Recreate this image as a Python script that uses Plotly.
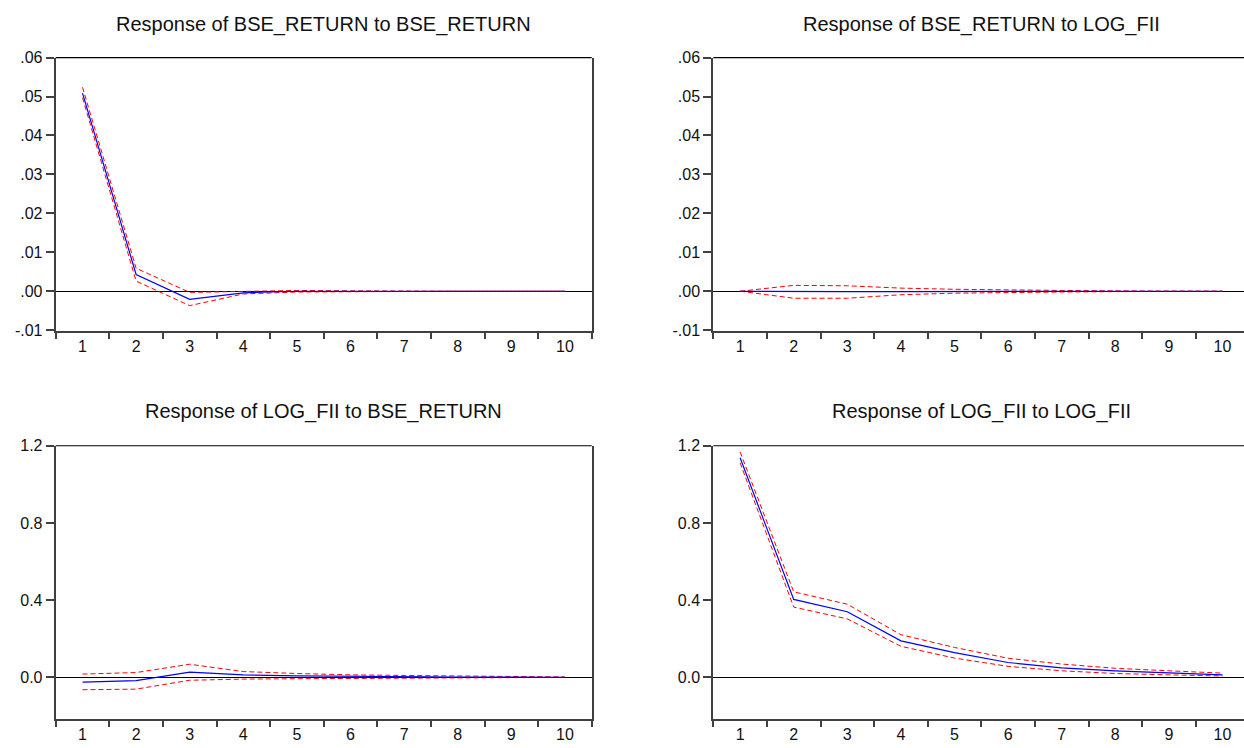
import plotly.graph_objects as go

periods = ["1", "2", "3", "4", "5", "6", "7", "8", "9", "10"]

# Response of BSE_RETURN to BSE_RETURN
bse_bse = [0.0509, 0.0043, -0.0021, -0.0004, 0.0000, 0.0000, 0.0000, 0.0000, 0.0000, 0.0000]
bse_bse_up = [0.0524, 0.0059, -0.0003, 0.0000, 0.0002, 0.0001, 0.0000, 0.0000, 0.0000, 0.0000]
bse_bse_lo = [0.0497, 0.0026, -0.0037, -0.0007, -0.0002, -0.0001, 0.0000, 0.0000, 0.0000, 0.0000]

# Response of BSE_RETURN to LOG_FII
bse_fii = [0.0000, -0.0001, -0.0001, -0.0001, -0.00005, 0.0000, 0.0000, 0.0000, 0.0000, 0.0000]
bse_fii_up = [0.0000, 0.0015, 0.0014, 0.0008, 0.0005, 0.0003, 0.0002, 0.0001, 0.0001, 0.0000]
bse_fii_lo = [0.0000, -0.0018, -0.0018, -0.0009, -0.0005, -0.0003, -0.0002, -0.0001, -0.0001, 0.0000]

# Response of LOG_FII to BSE_RETURN
fii_bse = [-0.025, -0.017, 0.027, 0.013, 0.008, 0.005, 0.003, 0.002, 0.001, 0.000]
fii_bse_up = [0.017, 0.025, 0.068, 0.030, 0.020, 0.013, 0.010, 0.007, 0.004, 0.002]
fii_bse_lo = [-0.064, -0.061, -0.015, -0.009, -0.007, -0.005, -0.003, -0.002, -0.001, 0.000]

# Response of LOG_FII to LOG_FII
fii_fii = [1.138, 0.404, 0.340, 0.189, 0.128, 0.077, 0.049, 0.034, 0.023, 0.013]
fii_fii_up = [1.168, 0.443, 0.379, 0.221, 0.155, 0.099, 0.069, 0.047, 0.034, 0.022]
fii_fii_lo = [1.112, 0.364, 0.303, 0.161, 0.100, 0.057, 0.034, 0.020, 0.013, 0.007]

titles = [
    "Response of BSE_RETURN to BSE_RETURN",
    "Response of BSE_RETURN to LOG_FII",
    "Response of LOG_FII to BSE_RETURN",
    "Response of LOG_FII to LOG_FII",
]

top_tickvals = [-0.01, 0.0, 0.01, 0.02, 0.03, 0.04, 0.05, 0.06]
top_ticktext = ["-.01", ".00", ".01", ".02", ".03", ".04", ".05", ".06"]
bot_tickvals = [0.0, 0.4, 0.8, 1.2]
bot_ticktext = ["0.0", "0.4", "0.8", "1.2"]

panels = [
    (bse_bse, bse_bse_up, bse_bse_lo),
    (bse_fii, bse_fii_up, bse_fii_lo),
    (fii_bse, fii_bse_up, fii_bse_lo),
    (fii_fii, fii_fii_up, fii_fii_lo),
]

W, H = 1244, 748
FONT = "Arial, Liberation Sans, sans-serif"
AXC = "#404040"

# pixel layout of panels
left_x = (55.7 / W, 591.7 / W)
right_x = (713.3 / W, 1.0)
top_y = (1 - 330.0 / H, 1 - 50.7 / H)
bot_y = (1 - 726.7 / H, 1 - 447.3 / H)
band = 53.6
right_end = 9.5 - (1249.3 - 1244) / band

fig = go.Figure()
domains = [(left_x, top_y), (right_x, top_y), (left_x, bot_y), (right_x, bot_y)]

for i, (mid, up, lo) in enumerate(panels):
    n = i + 1
    xa = "x" if n == 1 else f"x{n}"
    ya = "y" if n == 1 else f"y{n}"
    for ser in (up, lo):
        fig.add_trace(go.Scatter(x=periods, y=ser, mode="lines", xaxis=xa, yaxis=ya,
                                 line=dict(color="#FF0000", width=1, dash="5px,3px"),
                                 showlegend=False, hoverinfo="skip"))
    fig.add_trace(go.Scatter(x=periods, y=mid, mode="lines", xaxis=xa, yaxis=ya,
                             line=dict(color="#0000FF", width=1.2),
                             showlegend=False))

    xd, yd = domains[i]
    is_right = n in (2, 4)
    is_top = n in (1, 2)
    xkey = "xaxis" if n == 1 else f"xaxis{n}"
    ykey = "yaxis" if n == 1 else f"yaxis{n}"
    fig.layout[xkey] = dict(
        domain=list(xd), anchor=ya, type="category",
        range=[-0.5, right_end if is_right else 9.5],
        tickson="boundaries", ticks="outside", ticklen=6, tickwidth=1.5, tickcolor=AXC,
        showline=True, linecolor=AXC, linewidth=2, mirror=False,
        showgrid=False, zeroline=False,
        tickfont=dict(family=FONT, size=16, color="#111111"),
        fixedrange=True,
    )
    fig.layout[ykey] = dict(
        domain=list(yd), anchor=xa,
        range=[-0.0102, 0.06] if is_top else [-0.2165, 1.2],
        tickvals=top_tickvals if is_top else bot_tickvals,
        ticktext=top_ticktext if is_top else bot_ticktext,
        ticks="outside", ticklen=8, tickwidth=1.5, tickcolor=AXC,
        showline=True, linecolor=AXC, linewidth=2, mirror=(not is_right),
        showgrid=False, zeroline=True, zerolinecolor="#000000", zerolinewidth=1.2,
        tickfont=dict(family=FONT, size=16, color="#111111"),
        fixedrange=True,
    )
    # top frame line
    fig.add_shape(type="line", xref=f"{xa} domain", yref=f"{ya} domain",
                  x0=0, x1=1, y0=1, y1=1, line=dict(color="#000000", width=1.2))
    # title
    fig.add_annotation(text=titles[i], xref="paper", yref="paper",
                       x=(xd[0] + (1249.3 / W if is_right else xd[1])) / 2,
                       y=(1 - 17.0 / H) if is_top else (1 - 412.3 / H),
                       xanchor="center", yanchor="middle", showarrow=False,
                       font=dict(family=FONT, size=20, color="#111111"))

fig.update_layout(
    width=W, height=H,
    margin=dict(l=0, r=0, t=0, b=0),
    paper_bgcolor="white", plot_bgcolor="white",
    showlegend=False,
)

fig.write_html(
    "out.html",
    config={"displayModeBar": False},
    post_script="document.body.style.margin='0';document.body.style.padding='0';"
                "document.body.style.overflow='hidden';",
)
